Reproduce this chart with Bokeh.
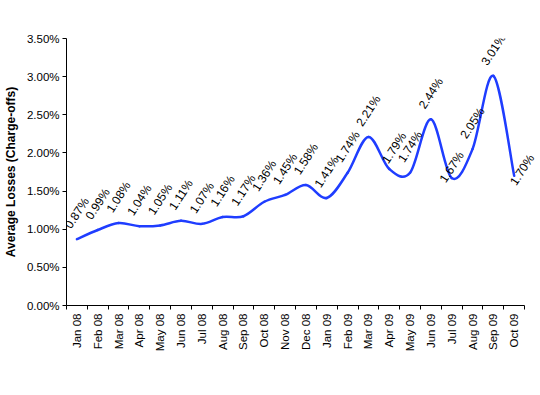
import math
from bokeh.plotting import figure
from bokeh.models import FixedTicker, ColumnDataSource, Range1d
from bokeh.core.properties import value
from bokeh.embed import file_html
from bokeh.resources import INLINE

# ---- data ----
months = ["Jan 08", "Feb 08", "Mar 08", "Apr 08", "May 08", "Jun 08", "Jul 08",
          "Aug 08", "Sep 08", "Oct 08", "Nov 08", "Dec 08", "Jan 09", "Feb 09",
          "Mar 09", "Apr 09", "May 09", "Jun 09", "Jul 09", "Aug 09", "Sep 09", "Oct 09"]
losses = [0.87, 0.99, 1.08, 1.04, 1.05, 1.11, 1.07, 1.16, 1.17, 1.36, 1.45, 1.58,
          1.41, 1.74, 2.21, 1.79, 1.74, 2.44, 1.67, 2.05, 3.01, 1.70]
loss_labels = ["0.87%", "0.99%", "1.08%", "1.04%", "1.05%", "1.11%", "1.07%", "1.16%",
               "1.17%", "1.36%", "1.45%", "1.58%", "1.41%", "1.74%", "2.21%", "1.79%",
               "1.74%", "2.44%", "1.67%", "2.05%", "3.01%", "1.70%"]
y_ticks = [0.0, 0.5, 1.0, 1.5, 2.0, 2.5, 3.0, 3.5]
y_tick_labels = ["0.00%", "0.50%", "1.00%", "1.50%", "2.00%", "2.50%", "3.00%", "3.50%"]

# ---- label placement (screen px offsets, style only) ----
n = len(losses)
label_dx = [0] * n
label_dy = [-26] * n
label_dx[15], label_dy[15] = 5, -21   # Apr 09
label_dy[18] = -11                    # Jul 09
label_dx[21], label_dy[21] = 8, -6    # Oct 09

xs = list(range(n))

# ---- layout ----
W, H = 538, 392
LEFT, TOP = 63, 38
AXIS_RIGHT = 524          # where the category axis ends (canvas px)
FRAME_BOTTOM = 305
px_per_cat = (AXIS_RIGHT - LEFT) / n
x_end = -0.5 + (W - LEFT) / px_per_cat   # frame runs on to the canvas edge

# smoothed line: Catmull-Rom -> cubic Bezier segments through the data points
seg = dict(x0=[], y0=[], x1=[], y1=[], cx0=[], cy0=[], cx1=[], cy1=[])
for i in range(n - 1):
    a = max(i - 1, 0)
    d = min(i + 2, n - 1)
    seg["x0"].append(xs[i]); seg["y0"].append(losses[i])
    seg["x1"].append(xs[i + 1]); seg["y1"].append(losses[i + 1])
    seg["cx0"].append(xs[i] + (xs[i + 1] - xs[a]) / 6.0)
    seg["cy0"].append(losses[i] + (losses[i + 1] - losses[a]) / 6.0)
    seg["cx1"].append(xs[i + 1] - (xs[d] - xs[i]) / 6.0)
    seg["cy1"].append(losses[i + 1] - (losses[d] - losses[i]) / 6.0)

FONT = "Liberation Sans"

p = figure(width=W, height=H, output_backend="svg", toolbar_location=None,
           x_range=Range1d(-0.5, x_end), y_range=Range1d(0, 3.5),
           min_border_left=LEFT, min_border_right=0, min_border_top=TOP,
           min_border_bottom=H - FRAME_BOTTOM)
p.outline_line_color = None
p.xgrid.visible = False
p.ygrid.visible = False
p.background_fill_color = "white"
p.border_fill_color = "white"

p.bezier(x0="x0", y0="y0", x1="x1", y1="y1", cx0="cx0", cy0="cy0", cx1="cx1", cy1="cy1",
         source=ColumnDataSource(seg), line_color="#1f3dff", line_width=2.5,
         line_cap="round")

lab_src = ColumnDataSource(dict(x=xs, y=losses, t=loss_labels, dx=label_dx, dy=label_dy))
p.text(x="x", y="y", text="t", source=lab_src, angle=57, angle_units="deg",
       x_offset="dx", y_offset="dy", text_align="center", text_baseline="middle",
       text_font=value(FONT), text_font_size="12px", text_color="black")

# x axis: labels at categories, tick marks between them
xa = p.xaxis[0]
xa.bounds = (-0.5, n - 0.5)
xa.ticker = FixedTicker(ticks=xs, minor_ticks=[i - 0.5 for i in range(n + 1)])
xa.major_label_overrides = {i: m for i, m in enumerate(months)}
xa.major_label_orientation = math.pi / 2
xa.major_tick_out = 0
xa.major_tick_in = 0
xa.minor_tick_out = 4
xa.minor_tick_in = 0
xa.minor_tick_line_color = "black"
xa.major_label_text_font = FONT
xa.major_label_text_font_size = "11.5px"
xa.major_label_text_color = "black"
xa.major_label_standoff = 4
xa.axis_line_color = "black"

ya = p.yaxis[0]
ya.ticker = FixedTicker(ticks=y_ticks, minor_ticks=[])
ya.major_label_overrides = {t: l for t, l in zip(y_ticks, y_tick_labels)}
ya.major_tick_out = 4
ya.major_tick_in = 0
ya.major_tick_line_color = "black"
ya.major_label_text_font = FONT
ya.major_label_text_font_size = "11.5px"
ya.major_label_text_color = "black"
ya.major_label_standoff = 3
ya.axis_line_color = "black"
ya.axis_label = "Average Losses (Charge-offs)"
ya.axis_label_text_font = FONT
ya.axis_label_text_font_size = "12px"
ya.axis_label_text_font_style = "bold"
ya.axis_label_text_color = "black"
ya.axis_label_standoff = 6

open("out.html", "w").write(file_html(p, INLINE))
